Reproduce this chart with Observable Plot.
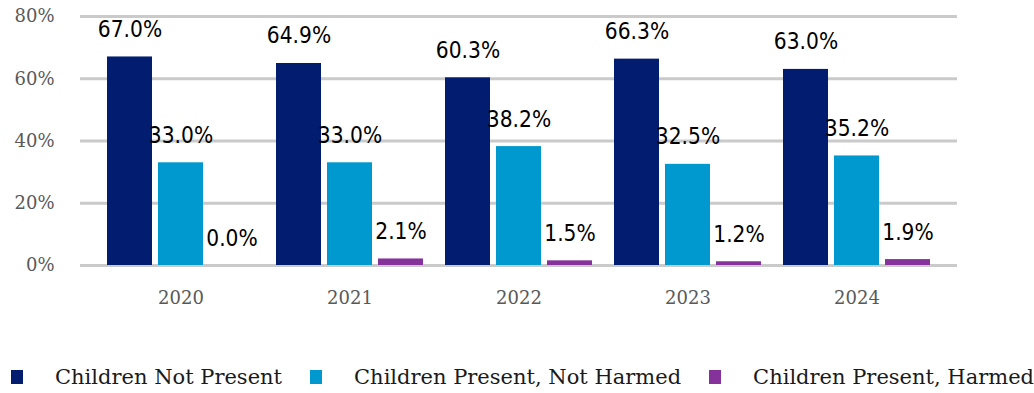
<!DOCTYPE html>
<html>
<head>
<meta charset="utf-8">
<script src="https://cdn.jsdelivr.net/npm/d3@7"></script>
<script src="https://cdn.jsdelivr.net/npm/@observablehq/plot@0.6"></script>
<style>
  html, body { margin: 0; padding: 0; background: #fff; }
  #chart svg { display: block; }
  .legend { display: flex; align-items: center; height: 44px; margin-left: 11px;
    font-family: "DejaVu Serif", serif; font-size: 21px; color: #1a1a1a; white-space: nowrap; }
  .legend .item { display: flex; align-items: center; margin-right: 28px; }
  .legend .sw { width: 12px; height: 14px; margin-right: 32px; }
</style>
</head>
<body>
<div id="chart"></div>
<div class="legend" id="legend"></div>
<script>
const years = ["2020", "2021", "2022", "2023", "2024"];
const seriesNames = ["Children Not Present", "Children Present, Not Harmed", "Children Present, Harmed"];
const notPresent = [67.0, 64.9, 60.3, 66.3, 63.0];
const presentNotHarmed = [33.0, 33.0, 38.2, 32.5, 35.2];
const presentHarmed = [0.0, 2.1, 1.5, 1.2, 1.9];
const colors = ["#021d70", "#0099cf", "#85329a"];
const yTicks = [0, 20, 40, 60, 80];

const seriesValues = [notPresent, presentNotHarmed, presentHarmed];
const rows = seriesValues.flatMap((vals, s) =>
  years.map((year, i) => ({ year, series: seriesNames[s], value: vals[i] })));

const band = 169, barW = 45, gap = 6, pad0 = 11;
const labelFont = { fontFamily: "'DejaVu Sans Condensed', 'DejaVu Sans', sans-serif", fontSize: 22.5, fill: "#000" };

const marks = [
  Plot.ruleY(yTicks, { stroke: "#cacaca", strokeWidth: 3 })
];
seriesNames.forEach((name, s) => {
  const data = rows.filter(d => d.series === name);
  const left = pad0 + s * (barW + gap);
  const right = band - left - barW;
  marks.push(Plot.barY(data, { x: "year", y: "value", fill: colors[s], insetLeft: left, insetRight: right }));
  marks.push(Plot.text(data, {
    x: "year", y: "value", text: d => d.value.toFixed(1) + "%",
    dx: left + barW / 2 - band / 2, dy: -20, lineAnchor: "bottom", ...labelFont,
    style: "font-stretch: condensed"
  }));
});
marks.push(Plot.axisY(yTicks, { tickSize: 0, tickPadding: 26, tickFormat: d => d + "%", label: null,
  fontSize: 18, fontFamily: "'DejaVu Serif', serif", fill: "#595959" }));
marks.push(Plot.axisX({ tickSize: 0, tickPadding: 26, label: null,
  fontSize: 18, fontFamily: "'DejaVu Serif', serif", fill: "#595959" }));

const chart = Plot.plot({
  width: 1034,
  height: 355,
  marginLeft: 80,
  marginRight: 77,
  marginTop: 16,
  marginBottom: 90,
  x: { type: "band", domain: years, padding: 0, insetLeft: 16, insetRight: 16, axis: null },
  y: { domain: [0, 80], axis: null },
  marks
});
document.getElementById("chart").appendChild(chart);

const legend = document.getElementById("legend");
seriesNames.forEach((name, s) => {
  const item = document.createElement("div");
  item.className = "item";
  const sw = document.createElement("span");
  sw.className = "sw";
  sw.style.background = colors[s];
  const label = document.createElement("span");
  label.textContent = name;
  item.appendChild(sw);
  item.appendChild(label);
  legend.appendChild(item);
});
</script>
</body>
</html>
